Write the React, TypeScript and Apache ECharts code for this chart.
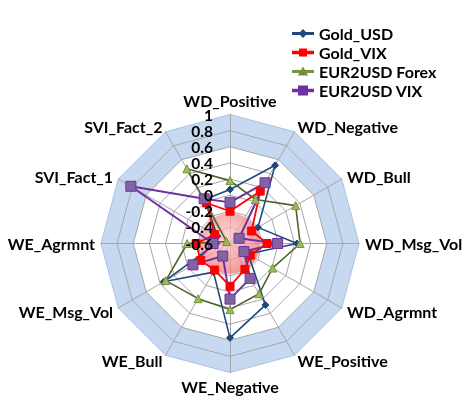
import React, { useEffect, useRef } from "react";
import * as echarts from "echarts";

// Axes in the reference order (clockwise from the top)
const axisNames = [
  "WD_Positive",
  "WD_Negative",
  "WD_Bull",
  "WD_Msg_Vol",
  "WD_Agrmnt",
  "WE_Positive",
  "WE_Negative",
  "WE_Bull",
  "WE_Msg_Vol",
  "WE_Agrmnt",
  "SVI_Fact_1",
  "SVI_Fact_2",
];

const seriesNames = ["Gold_USD", "Gold_VIX", "EUR2USD Forex", "EUR2USD VIX"];

const goldUSD = [0.07, 0.52, -0.2, 0.23, -0.34, 0.28, 0.57, -0.19, 0.35, -0.43, -0.42, 0.03];
const goldVIX = [-0.2, 0.15, -0.29, -0.14, -0.31, -0.23, -0.07, -0.22, -0.18, -0.18, -0.38, -0.02];
const eurForex = [0.18, 0.03, 0.34, 0.27, 0.01, 0.12, 0.22, 0.19, 0.32, -0.07, -0.55, 0.47];
const eurVIX = [-0.09, 0.27, -0.47, -0.01, -0.4, -0.1, 0.09, -0.42, -0.07, -0.39, 0.82, 0.04];

const axisMin = -0.6;
const axisMax = 1;
const splitCount = 8;

const FONT = "Lato, 'DejaVu Sans', sans-serif";

export default function App() {
  const ref = useRef<HTMLDivElement>(null);

  useEffect(() => {
    if (!ref.current) return;
    const chart = echarts.init(ref.current, undefined, { renderer: "svg" });

    const cx = 230;
    const cy = 243.5;
    const R = 129;

    // ECharts places indicators counter-clockwise; reorder to get clockwise layout
    const n = axisNames.length;
    const order = axisNames.map((_, i) => (n - i) % n);

    const indicator = order.map((k) => ({ name: axisNames[k], min: axisMin, max: axisMax }));

    // overlay radar only for the value labels on the first axis (drawn above the series)
    const labelIndicator = order.map((k, j) => {
      const base: any = { name: axisNames[k], min: axisMin, max: axisMax };
      if (j === 0) {
        base.axisLabel = {
          show: true,
          color: "#000",
          fontSize: 15.5,
          fontWeight: "bold",
          fontFamily: FONT,
          lineHeight: 15,
          margin: 17,
        };
      }
      return base;
    });

    const reorder = (arr: number[]) => order.map((k) => arr[k]);

    const styles = [
      { color: "#1F497D", symbol: "diamond", size: 7, width: 1.6, border: "#1F497D" },
      { color: "#FF0000", symbol: "rect", size: 8, width: 1.8, border: "#FF0000" },
      { color: "#4F6228", symbol: "triangle", size: 8, width: 1.6, border: "#77933C", fill: "#9BBB59" },
      { color: "#7030A0", symbol: "rect", size: 10, width: 2, border: "#7030A0", fill: "#8064A2" },
    ];
    const values = [goldUSD, goldVIX, eurForex, eurVIX];

    const icons = [
      "path://M0,0M20,8M0,3.4L20,3.4L20,4.6L0,4.6Z M10,1L13,4L10,7L7,4Z",
      "path://M0,0M20,8M0,3.3L20,3.3L20,4.7L0,4.7Z M7,1L13,1L13,7L7,7Z",
      "path://M0,0M20,8M0,3.4L20,3.4L20,4.6L0,4.6Z M10,1L13.5,7L6.5,7Z",
      "path://M0,0M20,8M0,3.3L20,3.3L20,4.7L0,4.7Z M6,0L14,0L14,8L6,8Z",
    ];

    const series = seriesNames.map((name, i) => ({
      type: "radar",
      name,
      radarIndex: 0,
      symbol: styles[i].symbol,
      symbolSize: styles[i].size,
      lineStyle: { color: styles[i].color, width: styles[i].width },
      itemStyle: {
        color: styles[i].fill || styles[i].color,
        borderColor: styles[i].border,
        borderWidth: 1,
      },
      data: [{ name, value: reorder(values[i]) }],
    }));

    const splitLineColors = Array.from({ length: splitCount + 1 }, (_, i) =>
      i === splitCount ? "#A9C1E3" : "#A6A6A6"
    );
    const splitAreaColors = Array.from({ length: splitCount }, (_, i) =>
      i >= splitCount - 2 ? "#C6D9F1" : "rgba(255,255,255,0)"
    );

    chart.setOption({
      animation: false,
      legend: {
        orient: "vertical",
        left: 287,
        top: 19,
        itemGap: 0,
        itemWidth: 22,
        itemHeight: 8,
        data: seriesNames.map((name, i) => ({
          name,
          icon: icons[i],
          itemStyle: { color: styles[i].color },
        })),
        textStyle: {
          color: "#000",
          fontSize: 16,
          fontWeight: "bold",
          fontFamily: FONT,
          lineHeight: 19,
        },
      },
      radar: [
        {
          center: [cx, cy],
          radius: R,
          startAngle: 90,
          splitNumber: splitCount,
          shape: "polygon",
          nameGap: 6,
          indicator,
          axisName: {
            color: "#000",
            fontSize: 16,
            fontWeight: "bold",
            fontFamily: FONT,
          },
          axisLine: { lineStyle: { color: "#A6A6A6", width: 1 } },
          splitLine: { lineStyle: { color: splitLineColors, width: 1 } },
          splitArea: { show: true, areaStyle: { color: splitAreaColors } },
          axisLabel: { show: false },
        },
        {
          z: 5,
          center: [cx, cy],
          radius: R,
          startAngle: 90,
          splitNumber: splitCount,
          shape: "polygon",
          indicator: labelIndicator,
          axisName: { show: false },
          axisLine: { show: false },
          axisTick: { show: false },
          splitLine: { show: false },
          splitArea: { show: false },
          axisLabel: { show: false },
          silent: true,
        },
      ],
      graphic: [
        {
          type: "circle",
          z: 1,
          silent: true,
          shape: { cx, cy, r: R * 0.235 },
          style: {
            fill: new echarts.graphic.RadialGradient(0.42, 0.4, 0.6, [
              { offset: 0, color: "rgba(252,205,205,0.75)" },
              { offset: 1, color: "rgba(238,120,120,0.75)" },
            ]),
          },
        },
      ],
      series,
    });

    return () => chart.dispose();
  }, []);

  return (
    <div
      ref={ref}
      style={{ position: "fixed", left: 0, top: 0, width: 466, height: 406 }}
    />
  );
}
